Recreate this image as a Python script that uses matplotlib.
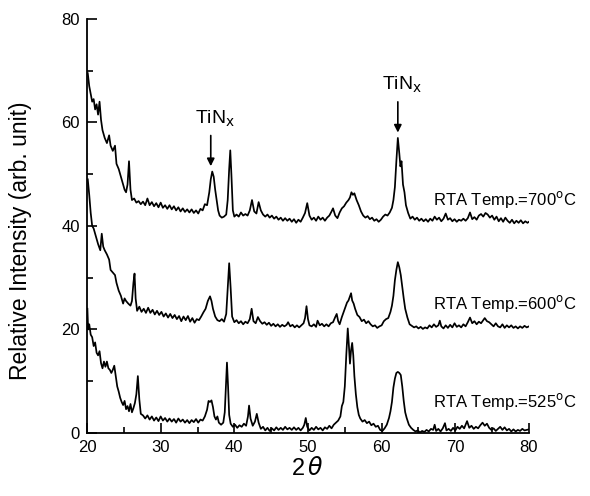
import matplotlib
matplotlib.use("Agg")
import matplotlib.pyplot as plt
from matplotlib.ticker import MultipleLocator

plt.rcParams["font.family"] = ["Liberation Sans", "DejaVu Sans"]
plt.rcParams["mathtext.fontset"] = "dejavusans"

# XRD patterns: 2-theta (deg) and offset intensity (arb. unit)
two_theta_700 = [20.1, 20.3, 20.5, 20.7, 20.9, 21.1, 21.3, 21.5, 21.7, 21.9, 22.1, 22.4, 22.7, 23.0, 23.2,
                 23.5, 23.8, 24.0, 24.3, 24.6, 24.9, 25.1, 25.3, 25.5, 25.7, 25.9, 26.1, 26.4, 26.7, 27.0,
                 27.3, 27.6, 27.9, 28.2, 28.5, 28.8, 29.1, 29.4, 29.7, 30.0, 30.3, 30.6, 30.9, 31.2, 31.5,
                 31.8, 32.1, 32.4, 32.7, 33.0, 33.3, 33.6, 33.9, 34.2, 34.5, 34.8, 35.1, 35.4, 35.7, 36.0,
                 36.3, 36.6, 36.8, 37.0, 37.2, 37.4, 37.6, 37.8, 38.0, 38.3, 38.6, 38.9, 39.1, 39.3, 39.45,
                 39.6, 39.8, 40.0, 40.3, 40.6, 40.9, 41.2, 41.5, 41.8, 42.1, 42.4, 42.7, 43.0, 43.3, 43.6,
                 43.9, 44.2, 44.5, 44.8, 45.1, 45.4, 45.7, 46.0, 46.3, 46.6, 46.9, 47.2, 47.5, 47.8, 48.1,
                 48.4, 48.7, 49.0, 49.3, 49.6, 49.9, 50.2, 50.5, 50.8, 51.1, 51.4, 51.7, 52.0, 52.3, 52.6,
                 52.9, 53.2, 53.4, 53.7, 54.0, 54.3, 54.6, 54.9, 55.2, 55.5, 55.7, 55.9, 56.1, 56.3, 56.6,
                 56.9, 57.2, 57.5, 57.8, 58.1, 58.4, 58.7, 59.0, 59.3, 59.6, 59.9, 60.2, 60.5, 60.8, 61.1,
                 61.4, 61.6, 61.8, 62.0, 62.2, 62.4, 62.55, 62.7, 62.9, 63.1, 63.3, 63.6, 63.9, 64.2, 64.5,
                 64.8, 65.1, 65.4, 65.7, 66.0, 66.3, 66.6, 66.9, 67.2, 67.5, 67.8, 68.1, 68.4, 68.7, 69.0,
                 69.3, 69.6, 69.9, 70.2, 70.5, 70.8, 71.1, 71.4, 71.7, 72.0, 72.3, 72.6, 72.9, 73.2, 73.5,
                 73.8, 74.1, 74.4, 74.7, 75.0, 75.3, 75.6, 75.9, 76.2, 76.5, 76.8, 77.1, 77.4, 77.7, 78.0,
                 78.3, 78.6, 78.9, 79.2, 79.5, 79.8, 80.0]
intensity_700 = [69.5, 67, 65.5, 64, 64.5, 62.5, 63.5, 61.5, 64, 60.5, 58.5, 57, 56, 57.5, 55.5,
                 54.5, 55.5, 52, 51, 49.5, 48, 47, 46.5, 48, 52.5, 47, 45, 45.3, 44.5, 44.8,
                 44.2, 44.7, 44, 45.3, 44, 44.6, 43.8, 44.4, 43.6, 44.5, 43.5, 44, 43.3, 44, 43.2,
                 43.8, 43, 43.6, 42.8, 43.4, 42.7, 43.2, 42.6, 43.2, 42.5, 43, 42.4, 43.3, 43, 44.2,
                 44, 46.5, 49, 50.5, 49.5, 47, 45, 43, 42, 41.6, 41.8, 42.2, 45, 51, 54.6,
                 50, 43, 41.8, 42.2, 41.8, 42.6, 42, 42.3, 42, 43, 45, 42.8, 42.4, 44.6, 43,
                 42.2, 41.8, 42.2, 41.6, 42, 41.4, 41.8, 41.2, 41.6, 41.0, 41.5, 41.0, 41.4, 40.8, 41.3,
                 40.6, 41.2, 40.8, 41.6, 42.5, 44.4, 42, 41.2, 41.6, 41, 41.8, 41.2, 41.6, 41.0, 41.6,
                 42, 42.8, 43.4, 42, 41.5, 42.6, 43.4, 43.8, 44.5, 45, 45.5, 46.5, 46, 46.3, 45,
                 44, 42.8, 42, 41.6, 41.9, 41.3, 41.6, 41.0, 41.3, 40.8, 41.2, 41.8, 42.2, 42, 42.6,
                 43.5, 45, 47.5, 52.5, 57, 54, 51.5, 52.5, 48, 46.5, 44, 42.5, 41.4, 41.8, 41.2,
                 41.6, 41.0, 41.4, 40.9, 41.3, 40.8, 41.4, 41.0, 41.8, 41.2, 41.6, 40.9, 41.4, 42.4, 41.2,
                 41.5, 40.9, 41.3, 40.8, 41.2, 41.0, 41.4, 41.0, 41.5, 42.6, 41.3, 41.7, 41.2, 42, 42.3,
                 41.8, 42.5, 42.2, 41.6, 42, 41.2, 41.8, 40.9, 41.5, 40.8, 41.6, 41.0, 40.6, 41.2, 40.5,
                 41.0, 40.6, 41.1, 40.5, 40.9, 40.6, 40.8]

two_theta_600 = [20.1, 20.3, 20.5, 20.7, 20.9, 21.1, 21.3, 21.5, 21.8, 22.0, 22.2, 22.4, 22.7, 23.0, 23.2,
                 23.5, 23.8, 24.0, 24.3, 24.6, 24.9, 25.1, 25.3, 25.6, 25.9, 26.1, 26.3, 26.45, 26.6, 26.8,
                 27.1, 27.4, 27.7, 28.0, 28.3, 28.6, 28.9, 29.2, 29.5, 29.8, 30.1, 30.4, 30.7, 31.0, 31.3,
                 31.6, 31.9, 32.2, 32.5, 32.8, 33.1, 33.4, 33.7, 34.0, 34.3, 34.6, 34.9, 35.2, 35.5, 35.8,
                 36.1, 36.4, 36.7, 36.9, 37.1, 37.4, 37.7, 38.0, 38.3, 38.6, 38.9, 39.1, 39.3, 39.5, 39.7,
                 40.0, 40.3, 40.6, 40.9, 41.2, 41.5, 41.8, 42.1, 42.35, 42.6, 42.9, 43.2, 43.5, 43.8, 44.1,
                 44.4, 44.7, 45.0, 45.3, 45.6, 45.9, 46.2, 46.5, 46.8, 47.1, 47.3, 47.6, 47.9, 48.2, 48.5,
                 48.8, 49.1, 49.4, 49.6, 49.8, 50.0, 50.2, 50.5, 50.8, 51.1, 51.3, 51.6, 51.9, 52.2, 52.5,
                 52.8, 53.1, 53.4, 53.7, 53.9, 54.1, 54.3, 54.6, 54.9, 55.1, 55.3, 55.5, 55.7, 55.85, 56.0,
                 56.2, 56.4, 56.7, 57.0, 57.3, 57.6, 57.9, 58.2, 58.5, 58.8, 59.1, 59.4, 59.7, 60.0, 60.3,
                 60.6, 60.9, 61.2, 61.4, 61.6, 61.8, 62.0, 62.2, 62.4, 62.6, 62.8, 63.0, 63.2, 63.5, 63.8,
                 64.1, 64.4, 64.7, 65.0, 65.3, 65.6, 65.9, 66.2, 66.5, 66.8, 67.1, 67.4, 67.7, 67.9, 68.1,
                 68.4, 68.7, 69.0, 69.3, 69.6, 69.9, 70.2, 70.5, 70.8, 71.1, 71.4, 71.7, 72.0, 72.3, 72.6,
                 72.9, 73.2, 73.5, 73.8, 74.0, 74.3, 74.6, 74.9, 75.2, 75.5, 75.8, 76.1, 76.4, 76.7, 77.0,
                 77.3, 77.6, 77.9, 78.2, 78.5, 78.8, 79.1, 79.4, 79.7, 80.0]
intensity_600 = [49, 46, 42.5, 40, 39.5, 38.5, 37.5, 36.5, 35.3, 38.5, 36, 35.3, 34.5, 33.5, 31.5,
                 31, 30.5, 29, 27.5, 26.5, 25, 26, 25.5, 25, 24.6, 25.5, 29, 30.8, 26, 23.6,
                 24.4, 23.4, 24, 23.2, 24.2, 23.2, 23.8, 22.9, 23.6, 22.8, 23.4, 22.5, 23.1, 22.3, 23,
                 22.2, 22.8, 22, 22.6, 21.6, 22.5, 21.8, 22.6, 21.5, 22.2, 21.3, 22, 21.8, 22.5, 23.3,
                 24, 25.5, 26.4, 25.5, 24, 22.5, 21.8, 21.6, 22, 21.5, 23, 28, 32.8, 28, 22.5,
                 21.4, 21.8, 21.2, 21.6, 21, 21.5, 21.2, 22, 24, 21.6, 21.2, 22.4, 21.6, 21.1, 21.4,
                 20.9, 21.3, 20.7, 21.1, 20.6, 21, 20.5, 20.9, 20.6, 20.9, 21.4, 20.6, 20.9, 20.4, 20.8,
                 20.4, 20.8, 21.2, 22.2, 24.5, 22, 20.8, 20.6, 21, 20.5, 21.7, 20.8, 21.1, 20.6, 21,
                 20.6, 21.2, 21.4, 22.4, 23, 21.6, 21, 22.4, 23.6, 24.4, 25.2, 25.6, 26.4, 27, 25.6,
                 25, 24, 22.8, 22.4, 21.6, 21.9, 21.2, 21.6, 21, 20.6, 20.8, 20.3, 20.6, 20.8, 21.6,
                 22, 22.2, 23.4, 24.6, 26.5, 29.5, 31.5, 33, 32, 30.5, 28.2, 26, 24, 22.3, 21,
                 20.7, 20.4, 20.6, 20.2, 20.5, 20.1, 20.4, 20.2, 20.8, 20.4, 21, 20.5, 20.8, 21.7, 20.6,
                 20.2, 20.8, 20.3, 20.9, 20.4, 21.2, 20.5, 20.8, 20.4, 21, 20.6, 21.4, 22.3, 21.2, 21.6,
                 21, 21.5, 21.2, 21.8, 22.2, 21.6, 21.4, 21, 20.6, 21.2, 20.6, 20.4, 21, 20.3, 20.8,
                 20.4, 20.8, 20.3, 20.6, 20.2, 20.6, 20.3, 20.7, 20.4, 20.6]

two_theta_525 = [20.05, 20.15, 20.3, 20.5, 20.7, 20.9, 21.1, 21.3, 21.5, 21.7, 21.9, 22.1, 22.3, 22.5, 22.7,
                 22.9, 23.1, 23.3, 23.5, 23.7, 23.9, 24.1, 24.3, 24.5, 24.7, 24.9, 25.1, 25.3, 25.5, 25.7,
                 25.9, 26.1, 26.3, 26.5, 26.7, 26.9, 27.1, 27.3, 27.6, 27.9, 28.2, 28.5, 28.8, 29.1, 29.4,
                 29.7, 30.0, 30.3, 30.6, 30.9, 31.2, 31.5, 31.8, 32.1, 32.4, 32.7, 33.0, 33.3, 33.6, 33.9,
                 34.2, 34.5, 34.8, 35.1, 35.4, 35.7, 36.0, 36.3, 36.5, 36.7, 36.9, 37.1, 37.3, 37.5, 37.7,
                 37.9, 38.2, 38.5, 38.7, 38.85, 39.0, 39.15, 39.3, 39.5, 39.8, 40.1, 40.4, 40.7, 41.0, 41.3,
                 41.6, 41.85, 42.0, 42.2, 42.5, 42.8, 43.05, 43.3, 43.6, 43.9, 44.2, 44.5, 44.8, 45.1, 45.4,
                 45.7, 46.0, 46.3, 46.6, 46.9, 47.2, 47.5, 47.8, 48.1, 48.4, 48.7, 49.0, 49.3, 49.5, 49.7,
                 49.9, 50.2, 50.5, 50.8, 51.1, 51.4, 51.7, 52.0, 52.3, 52.6, 52.9, 53.2, 53.5, 53.8, 54.1,
                 54.4, 54.6, 54.8, 55.0, 55.2, 55.4, 55.55, 55.7, 55.85, 56.0, 56.15, 56.3, 56.5, 56.7, 56.9,
                 57.1, 57.4, 57.7, 58.0, 58.3, 58.6, 58.9, 59.2, 59.5, 59.8, 60.1, 60.4, 60.7, 61.0, 61.2,
                 61.4, 61.6, 61.8, 62.0, 62.2, 62.4, 62.6, 62.8, 63.0, 63.2, 63.4, 63.7, 64.0, 64.3, 64.6,
                 64.9, 65.2, 65.5, 65.8, 66.1, 66.4, 66.7, 67.0, 67.2, 67.4, 67.7, 68.0, 68.3, 68.6, 68.8,
                 69.1, 69.4, 69.7, 70.0, 70.3, 70.6, 70.9, 71.2, 71.6, 71.9, 72.2, 72.5, 72.8, 73.1, 73.4,
                 73.7, 74.0, 74.3, 74.6, 74.9, 75.2, 75.5, 75.8, 76.1, 76.4, 76.7, 77.0, 77.3, 77.6, 77.9,
                 78.2, 78.5, 78.8, 79.1, 79.4, 79.7, 80.0]
intensity_525 = [24, 20, 21, 19, 18.5, 16.8, 17.5, 15.5, 15, 15.8, 13.5, 12.5, 13.8, 12.8, 13.8,
                 12.5, 12.2, 11.6, 12.2, 13, 11, 9, 8, 6.8, 6, 5.4, 6.2, 4.6, 5.2, 4.2,
                 5.6, 4.0, 4.8, 5.8, 7.5, 11, 6.5, 3.7, 3.4, 2.8, 3.4, 2.6, 3.2, 2.4, 3.0,
                 2.3, 3.2, 2.4, 2.9, 2.2, 2.8, 2.2, 2.7, 2.0, 2.8, 2.2, 2.6, 2.0, 2.5, 1.9,
                 2.5, 2.1, 2.7, 2.0, 2.6, 2.4, 3.2, 4.5, 6.2, 6.0, 6.3, 5, 3.2, 2.6, 3.2,
                 2.0, 1.6, 2.0, 4, 9, 13.6, 9, 3.5, 1.8, 1.2, 1.6, 1.0, 1.5, 1.2, 1.8,
                 1.4, 3.2, 5.3, 2.8, 1.4, 2.2, 3.7, 2.0, 0.8, 1.2, 0.5, 1.0, 0.4, 0.9, 0.5,
                 1.1, 0.6, 1.0, 0.6, 1.2, 0.7, 1.0, 0.6, 1.1, 0.6, 1.0, 0.5, 1.0, 1.6, 2.9,
                 1.2, 0.5, 1.0, 0.6, 1.2, 0.7, 1.0, 0.5, 1.1, 0.8, 1.4, 0.9, 1.6, 2.0, 2.4,
                 3.2, 5.2, 6, 9, 15, 20.2, 17, 13.4, 16, 17.4, 15, 11, 7.5, 5, 3.5,
                 2.8, 2.2, 2.5, 1.9, 2.2, 1.5, 1.8, 1.2, 1.4, 0.6, 0.4, 0.9, 1.6, 2.9, 4.2,
                 6, 8.8, 10.5, 11.6, 11.8, 11.6, 11.2, 9, 6.2, 4, 2.9, 1.6, 1.0, 0.6, 0.3,
                 0.5, 0.1, 0.4, 0.2, 0.6, 0.3, 0.8, 0.6, 1.6, 0.4, 0.8, 0.3, 0.9, 1.9, 0.5,
                 0.8, 0.4, 1.0, 0.5, 1.2, 0.8, 1.4, 0.9, 2.3, 1.0, 1.4, 0.8, 1.2, 0.9, 1.5,
                 2.0, 1.4, 1.8, 1.0, 0.6, 0.9, 0.4, 0.8, 1.2, 0.6, 1.1, 0.5, 0.8, 0.3, 0.7,
                 0.3, 0.6, 0.4, 0.8, 0.5, 0.6, 0.7]

curve_labels = ["RTA Temp.=700$^{\\rm o}$C", "RTA Temp.=600$^{\\rm o}$C", "RTA Temp.=525$^{\\rm o}$C"]
label_y = [45.2, 25.0, 6.0]
peak_2theta = [36.8, 62.2]
peak_tops = [51.0, 57.5]

fig = plt.figure(figsize=(5.9, 4.96), dpi=100)
ax = fig.add_axes([0.1475, 0.127, 0.749, 0.835])

for x, y in [(two_theta_700, intensity_700), (two_theta_600, intensity_600), (two_theta_525, intensity_525)]:
    ax.plot(x, y, color="black", lw=1.25)

for lab, yy in zip(curve_labels, label_y):
    ax.text(67.0, yy, lab, fontsize=12, ha="left", va="center")

# TiNx markers with arrows
for px, top in zip(peak_2theta, peak_tops):
    ax.annotate("", xy=(px, top), xytext=(px, top + 7),
                arrowprops=dict(arrowstyle="-|>", color="black", lw=1.2, mutation_scale=11))
    ax.text(px + 0.6, top + 7.8, "TiN$_{\\rm x}$", fontsize=14, ha="center", va="bottom")

ax.set_xlim(20, 80)
ax.set_ylim(0, 80)
ax.xaxis.set_major_locator(MultipleLocator(10))
ax.xaxis.set_minor_locator(MultipleLocator(5))
ax.yaxis.set_major_locator(MultipleLocator(20))
ax.yaxis.set_minor_locator(MultipleLocator(10))
ax.tick_params(which="both", direction="in", labelsize=12, width=1.2)
ax.tick_params(which="major", length=7, pad=5)
ax.tick_params(which="minor", length=4)
for s in ["top", "right"]:
    ax.spines[s].set_visible(False)
for s in ["left", "bottom"]:
    ax.spines[s].set_linewidth(1.3)

ax.set_ylabel("Relative Intensity (arb. unit)", fontsize=16.5)
ax.yaxis.set_label_coords(-0.125, 0.465)
ax.set_xlabel("2$\\,\\theta$", fontsize=17)
ax.xaxis.set_label_coords(0.5, -0.058)

fig.savefig("out.png", dpi=100)
